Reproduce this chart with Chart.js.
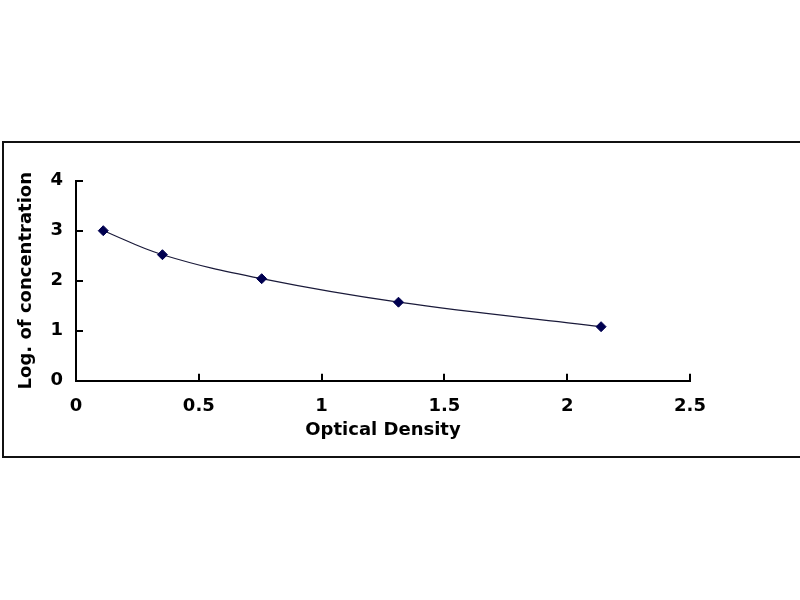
<!DOCTYPE html>
<html>
<head>
<meta charset="utf-8">
<script src="https://cdn.jsdelivr.net/npm/chart.js@4"></script>
<style>
  body { margin: 0; background: #fff; }
  #frame {
    position: absolute;
    left: 2px;
    top: 141px;
    width: 820px;
    height: 313px;
    border: 2px solid #111;
  }
  #curve { position: absolute; left: 0; top: 0; }
</style>
</head>
<body>
<div id="frame"></div>
<canvas id="curve" width="800" height="600"></canvas>
<script>
const opticalDensity = [0.111, 0.352, 0.756, 1.313, 2.138];
const logConcentration = [3.0, 2.52, 2.04, 1.57, 1.08];

const points = opticalDensity.map((od, i) => ({ x: od, y: logConcentration[i] }));

Chart.defaults.font.family = "'DejaVu Sans', Arial, sans-serif";
Chart.defaults.font.weight = "bold";
Chart.defaults.font.size = 18;
Chart.defaults.color = "#000";

const ctx = document.getElementById("curve").getContext("2d");

// eslint-disable-next-line no-undef
new Chart(ctx, {
  type: "scatter",
  data: {
    datasets: [
      {
        data: points,
        showLine: true,
        tension: 0.4,
        borderColor: "#1a1a3a",
        borderWidth: 1.2,
        pointStyle: "rectRot",
        pointRadius: 5,
        pointBackgroundColor: "#000050",
        pointBorderColor: "#000050",
        pointBorderWidth: 1,
      },
    ],
  },
  options: {
    responsive: false,
    animation: false,
    devicePixelRatio: 1,
    layout: {
      padding: { left: 0, right: 110, top: 180.7, bottom: 157.3 },
    },
    plugins: {
      legend: { display: false },
      tooltip: { enabled: false },
    },
    scales: {
      x: {
        type: "linear",
        min: 0,
        max: 2.5,
        afterFit: (scale) => {
          scale.height = 62;
        },
        border: { color: "#000", width: 2 },
        grid: {
          drawOnChartArea: false,
          tickLength: -7,
          color: "#000",
          lineWidth: 2,
        },
        ticks: {
          stepSize: 0.5,
          padding: 22,
          callback: (value) => String(value),
        },
        title: {
          display: true,
          text: "Optical Density",
          padding: { top: 0, bottom: 2 },
        },
      },
      y: {
        type: "linear",
        min: 0,
        max: 4,
        afterFit: (scale) => {
          scale.width = 76;
        },
        border: { color: "#000", width: 2 },
        grid: {
          drawOnChartArea: false,
          tickLength: -7,
          color: "#000",
          lineWidth: 2,
        },
        ticks: {
          stepSize: 1,
          padding: 20,
          callback: (value) => String(value),
        },
        title: {
          display: true,
          text: "Log. of concentration",
          padding: { top: 16, bottom: 0 },
        },
      },
    },
  },
});
</script>
</body>
</html>
